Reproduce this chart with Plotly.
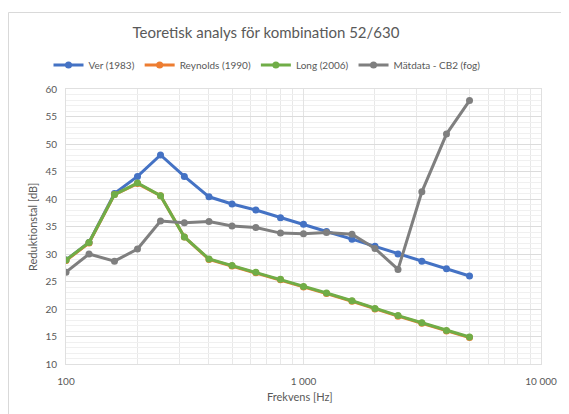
import plotly.graph_objects as go

freq = [100, 125, 160, 200, 250, 315, 400, 500, 630, 800, 1000, 1250, 1600, 2000, 2500, 3150, 4000, 5000]

ver = [28.9, 32.1, 41.0, 44.1, 48.0, 44.1, 40.4, 39.1, 38.0, 36.6, 35.4, 34.1, 32.7, 31.4, 30.0, 28.7, 27.3, 26.0]
reynolds = [28.8, 32.0, 40.8, 42.8, 40.6, 33.1, 29.0, 27.8, 26.6, 25.3, 24.0, 22.8, 21.4, 20.0, 18.7, 17.4, 16.0, 14.8]
long_ = [28.9, 32.1, 40.8, 42.9, 40.6, 33.1, 29.1, 27.9, 26.7, 25.4, 24.1, 22.9, 21.5, 20.1, 18.8, 17.5, 16.1, 14.9]
matdata = [26.7, 30.0, 28.7, 30.9, 36.0, 35.7, 35.9, 35.1, 34.8, 33.8, 33.7, 33.9, 33.6, 31.0, 27.2, 41.3, 51.8, 57.9]

series = [
    ("Ver (1983)", ver, "#4472C4"),
    ("Reynolds (1990)", reynolds, "#ED7D31"),
    ("Long (2006)", long_, "#70AD47"),
    ("Mätdata - CB2 (fog)", matdata, "#7F7F7F"),
]

x_tickvals = [100, 1000, 10000]
x_ticktext = ["100", "1 000", "10 000"]
x_minor = [200, 300, 400, 500, 600, 700, 800, 900, 2000, 3000, 4000, 5000, 6000, 7000, 8000, 9000]
y_tickvals = [10, 15, 20, 25, 30, 35, 40, 45, 50, 55, 60]

FONT = "Lato, 'Open Sans', sans-serif"
TXT = "#595959"

fig = go.Figure()
for name, vals, col in series:
    fig.add_trace(go.Scatter(
        x=freq, y=vals, name=name, mode="lines+markers",
        line=dict(color=col, width=3),
        marker=dict(color=col, size=7),
    ))

OFF = 8  # page body margin
W, H = 569 - OFF, 414 - OFF
L, R, T, B = 66 - OFF, 541 - OFF, 89 - OFF, 364 - OFF
fig.update_layout(
    width=W, height=H,
    margin=dict(l=L, r=W - R, t=T, b=H - B, autoexpand=False),
    paper_bgcolor="white", plot_bgcolor="white",
    font=dict(family=FONT, color=TXT, size=10),
    title=dict(text="Teoretisk analys för kombination 52/630",
               x=(266 - OFF) / W, xref="container", xanchor="center",
               y=1 - (33 - OFF) / H, yref="container", yanchor="middle",
               font=dict(size=15, color=TXT, family=FONT)),
    legend=dict(orientation="h", x=(267 - OFF) / W, xref="container", xanchor="center",
                y=1 - (65 - OFF) / H, yref="container", yanchor="middle",
                font=dict(size=10, color=TXT), itemwidth=30, tracegroupgap=0,
                bgcolor="rgba(0,0,0,0)"),
    showlegend=True,
)
fig.update_xaxes(
    type="log", range=[2, 4],
    tickvals=x_tickvals, ticktext=x_ticktext,
    showgrid=True, gridcolor="#E3E3E3", gridwidth=1,
    minor=dict(tickvals=x_minor, showgrid=True, gridcolor="#E8E8E8", ticks=""),
    showline=True, linecolor="#E0E0E0", linewidth=1, mirror=True,
    ticks="", ticklabelstandoff=8, tickfont=dict(size=10, color=TXT),
    zeroline=False,
)
fig.update_yaxes(
    range=[10, 60], tickvals=y_tickvals,
    showgrid=True, gridcolor="#DCDCDC", gridwidth=1,
    minor=dict(dtick=1, showgrid=True, gridcolor="#F0F0F0", ticks=""),
    showline=True, linecolor="#E0E0E0", linewidth=1, mirror=True,
    ticks="", ticklabelstandoff=6, tickfont=dict(size=10, color=TXT),
    zeroline=False,
)
fig.add_annotation(text="Reduktionstal [dB]", xref="paper", yref="paper",
                   x=(32 - 66) / (541 - 66), y=(364 - 227) / (364 - 89), textangle=-90,
                   showarrow=False, xanchor="center", yanchor="middle",
                   font=dict(size=11, color=TXT))
fig.add_annotation(text="Frekvens [Hz]", xref="paper", yref="paper",
                   x=(300 - 66) / (541 - 66), y=(364 - 396) / (364 - 89),
                   showarrow=False, xanchor="center", yanchor="middle",
                   font=dict(size=11, color=TXT))
# chart area border
fig.add_shape(type="rect", xref="paper", yref="paper",
              x0=(8.5 - 66) / (541 - 66), x1=(600 - 66) / (541 - 66),
              y0=(364 - 430) / (364 - 89), y1=(364 - 12.5) / (364 - 89),
              line=dict(color="#D9D9D9", width=1), layer="below")

fig.write_html("out.html")
